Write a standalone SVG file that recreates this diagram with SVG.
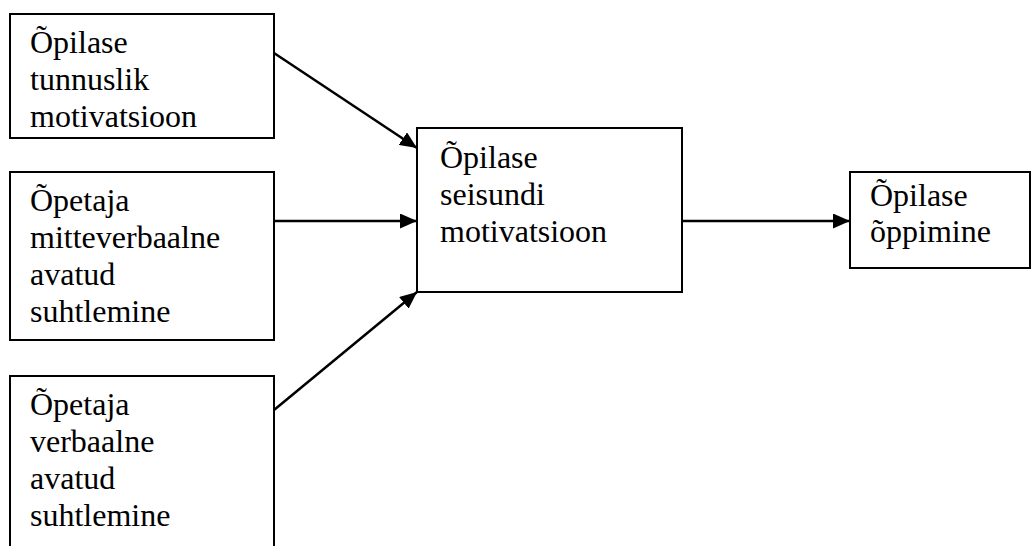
<svg xmlns="http://www.w3.org/2000/svg" width="1031" height="546" viewBox="0 0 1031 546">
<defs>
<style>
.box{fill:#fff;stroke:#000;stroke-width:2}
.t{font-family:'Liberation Serif','Times New Roman',serif;font-size:32px;fill:#000}
.c{stroke:#000;stroke-width:2.5;fill:none;marker-end:url(#ah)}
</style>
<marker id="ah" markerUnits="userSpaceOnUse" markerWidth="17" markerHeight="15" refX="17" refY="7.5" orient="auto">
<path d="M0,0 L17,7.5 L0,15 Z" fill="#000"/>
</marker>
</defs>
<rect width="1031" height="546" fill="#fff"/>
<g id="connectors">
<line class="c" x1="274" y1="53" x2="417" y2="148"/>
<line class="c" x1="274" y1="221" x2="417" y2="221"/>
<line class="c" x1="274" y1="410" x2="417" y2="292"/>
<line class="c" x1="682" y1="221" x2="850" y2="221"/>
</g>
<g id="n1">
<rect class="box" x="10" y="14" width="264" height="124"/>
<text class="t"><tspan x="30" y="53">Õpilase</tspan><tspan x="30" y="90">tunnuslik</tspan><tspan x="30" y="127">motivatsioon</tspan></text>
</g>
<g id="n2">
<rect class="box" x="10" y="172" width="264" height="168"/>
<text class="t"><tspan x="30" y="211">Õpetaja</tspan><tspan x="30" y="248">mitteverbaalne</tspan><tspan x="30" y="285">avatud</tspan><tspan x="30" y="322">suhtlemine</tspan></text>
</g>
<g id="n3">
<rect class="box" x="10" y="376" width="264" height="200"/>
<text class="t"><tspan x="30" y="415">Õpetaja</tspan><tspan x="30" y="452">verbaalne</tspan><tspan x="30" y="489">avatud</tspan><tspan x="30" y="526">suhtlemine</tspan></text>
</g>
<g id="n4">
<rect class="box" x="417" y="128" width="265" height="164"/>
<text class="t"><tspan x="440" y="168">Õpilase</tspan><tspan x="440" y="205">seisundi</tspan><tspan x="440" y="242">motivatsioon</tspan></text>
</g>
<g id="n5">
<rect class="box" x="850" y="172" width="180" height="96"/>
<text class="t"><tspan x="870" y="206">Õpilase</tspan><tspan x="870" y="242">õppimine</tspan></text>
</g>
</svg>
